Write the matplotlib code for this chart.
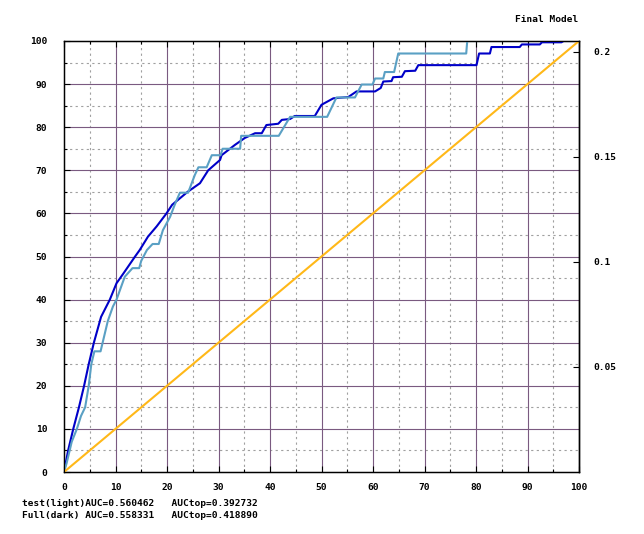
import matplotlib
matplotlib.use("Agg")
import matplotlib.pyplot as plt

# ---- data ----
full_x = [0, 0.2, 0.8, 1.8, 2.9, 3.9, 4.8, 5.8, 6.5, 7.2, 8.9, 10.2, 11.5, 13.8, 14.7,
          16.3, 18, 19.9, 21, 22.5, 24, 26.4, 28, 30.3, 30.6, 33.2, 35.1, 37.1, 38.4,
          39.3, 41.6, 42.3, 43.9, 44.8, 48.7, 50, 52.3, 55.2, 56.8, 60.4, 61.5, 62,
          63.6, 63.9, 65.6, 66.2, 68.2, 68.8, 80.1, 80.6, 82.7, 83, 88.5, 88.9, 92.4,
          92.8, 96.6, 97, 100]
full_y = [0, 1.2, 5, 10, 15, 20, 25, 30, 33, 36, 40, 43.8, 46, 50, 51.5,
          54.6, 57, 60, 62, 63.5, 65, 67, 70, 72.4, 73.5, 75.9, 77.5, 78.6, 78.6,
          80.5, 80.8, 81.7, 81.9, 82.6, 82.6, 85.2, 86.7, 87, 88.3, 88.3, 89.1, 90.6,
          90.7, 91.6, 91.7, 93, 93.1, 94.4, 94.4, 97.1, 97.1, 98.6, 98.6, 99.2, 99.2,
          99.7, 99.7, 100, 100]

test_x = [0, 0.5, 1.1, 1.5, 2.5, 3.3, 4.1, 4.8, 5.3, 5.9, 7.1, 7.5, 8.5, 9.5, 10.2, 10.8,
          11.8, 13.3, 14.6, 15, 16.1, 17.2, 18.4, 19.2, 20.6, 21.5, 22.5, 24.1, 25.4,
          26.1, 27.7, 28.7, 30.4, 30.8, 34.2, 34.4, 41.7, 43.9, 51.1, 52.9, 56.5,
          57.8, 59.9, 60.4, 62, 62.3, 64.1, 64.9, 78.1, 78.3, 100]
test_y = [0, 2, 5, 7, 10, 13, 15, 20, 25, 28, 28, 30, 35, 38.4, 40, 42,
          45.3, 47.3, 47.3, 49, 51.5, 52.9, 52.9, 56.1, 59.2, 62, 64.8, 64.8, 68.9,
          70.7, 70.7, 73.5, 73.5, 75, 75, 78, 78, 82.4, 82.4, 86.9, 86.9,
          89.9, 89.9, 91.3, 91.3, 92.8, 92.8, 97.1, 97.1, 100, 100]

diag_x = [0, 100]
diag_y = [0, 100]

x_ticks = [0, 10, 20, 30, 40, 50, 60, 70, 80, 90, 100]
y_ticks = [0, 10, 20, 30, 40, 50, 60, 70, 80, 90, 100]
y2_ticks = [0.05, 0.1, 0.15, 0.2]
y2_labels = ["0.05", "0.1", "0.15", "0.2"]

title_text = "Final Model"
legend_lines = ["test(light)AUC=0.560462   AUCtop=0.392732",
                "Full(dark) AUC=0.558331   AUCtop=0.418890"]

# ---- style ----
FONT = dict(family="DejaVu Sans Mono", weight="bold", size=6.8)
GRID_MAJOR = "#7a5a80"
GRID_MINOR = "#a0a0a0"

fig = plt.figure(figsize=(6.44, 5.34), dpi=100)
ax = fig.add_axes([64/644, 1 - 472/534, (579-64)/644, (472-41)/534])

ax.set_xlim(0, 100)
ax.set_ylim(0, 100)

# grid
for v in range(5, 100, 10):
    ax.axvline(v, color=GRID_MINOR, lw=0.8, ls=(0, (2, 3)), zorder=1)
    ax.axhline(v, color=GRID_MINOR, lw=0.8, ls=(0, (2, 3)), zorder=1)
for v in range(10, 100, 10):
    ax.axvline(v, color=GRID_MAJOR, lw=0.8, zorder=1)
    ax.axhline(v, color=GRID_MAJOR, lw=0.8, zorder=1)

ax.plot(full_x, full_y, color="#0000c8", lw=1.5, zorder=3)
ax.plot(test_x, test_y, color="#5aa0c4", lw=1.5, zorder=4)
ax.plot(diag_x, diag_y, color="#ffb818", lw=1.5, zorder=5)

ax.set_xticks(x_ticks)
ax.set_yticks(y_ticks)
ax.set_xticks(list(range(5, 100, 10)), minor=True)
ax.set_yticks(list(range(5, 100, 10)), minor=True)
ax.set_xticklabels([str(t) for t in x_ticks], fontdict=FONT)
ax.set_yticklabels([str(t) for t in y_ticks], fontdict=FONT)
ax.tick_params(which="major", direction="in", length=4.5, width=0.8, top=True,
               right=False, colors="black")
ax.tick_params(axis="x", which="major", pad=8)
ax.tick_params(axis="y", which="major", pad=12)
ax.tick_params(which="minor", direction="in", length=2.5, width=0.8, top=True,
               right=False)
for sp in ax.spines.values():
    sp.set_linewidth(1.0)

ax2 = ax.twinx()
ax2.set_ylim(0, 0.2052)
ax2.set_yticks(y2_ticks)
ax2.set_yticklabels(y2_labels, fontdict=FONT)
ax2.tick_params(direction="in", length=4.5, width=0.8, pad=10)
ax2.spines["right"].set_linewidth(1.0)

fig.text(578/644, 1 - 20/534, title_text, ha="right", va="center", **FONT)
fig.text(22/644, 1 - 503/534, legend_lines[0], ha="left", va="center", **FONT)
fig.text(22/644, 1 - 515/534, legend_lines[1], ha="left", va="center", **FONT)

fig.savefig("out.png", dpi=100)
